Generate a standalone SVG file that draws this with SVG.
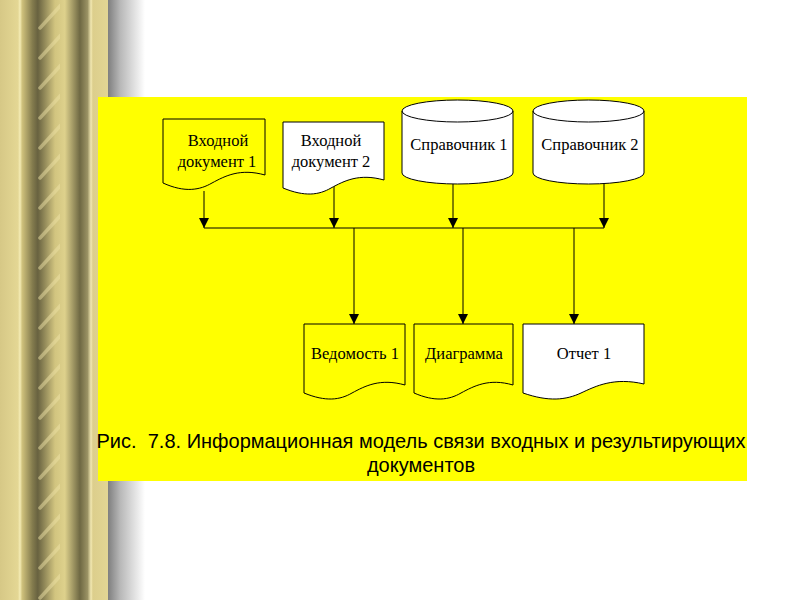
<svg xmlns="http://www.w3.org/2000/svg" width="800" height="600" viewBox="0 0 800 600">
<defs>
<linearGradient id="col" gradientUnits="userSpaceOnUse" x1="0" y1="0" x2="108" y2="0">
<stop offset="0" stop-color="#D6C886"/>
<stop offset="0.166" stop-color="#E4D794"/>
<stop offset="0.185" stop-color="#F4ECB6"/>
<stop offset="0.205" stop-color="#CFC17C"/>
<stop offset="0.30" stop-color="#847C4E"/>
<stop offset="0.35" stop-color="#686240"/>
<stop offset="0.51" stop-color="#D2C580"/>
<stop offset="0.60" stop-color="#DED18C"/>
<stop offset="0.74" stop-color="#6E6843"/>
<stop offset="0.81" stop-color="#9A9264"/>
<stop offset="0.843" stop-color="#F2E8B2"/>
<stop offset="0.86" stop-color="#DCCE8C"/>
<stop offset="1" stop-color="#E2D594"/>
</linearGradient>
<linearGradient id="shadow" x1="0" y1="0" x2="1" y2="0">
<stop offset="0" stop-color="#7A7A7A"/>
<stop offset="0.35" stop-color="#B8B8B8"/>
<stop offset="1" stop-color="#FFFFFF"/>
</linearGradient>
<pattern id="stripes" patternUnits="userSpaceOnUse" x="0" y="0" width="60" height="30">
<line x1="40" y1="28" x2="62" y2="4" stroke="#EDE2A6" stroke-width="3.5" stroke-linecap="round" opacity="0.5"/>
</pattern>
<clipPath id="colclip"><rect x="34" y="0" width="46" height="600"/></clipPath>
<marker id="arr" markerWidth="10" markerHeight="12" refX="10" refY="5" orient="auto" markerUnits="userSpaceOnUse" viewBox="0 0 10 10">
<path d="M0,0 L10,5 L0,10 Z" fill="#000"/>
</marker>
<style>
.shape{stroke:#000;stroke-width:1}
.y{fill:#FFFF00}
.w{fill:#FFFFFF}
.lbl{font-family:"Liberation Serif","Times New Roman",serif;font-size:16.5px;fill:#000;text-anchor:middle}
.cap{font-family:"Liberation Sans",Arial,sans-serif;font-size:20px;fill:#000;text-anchor:middle}
.con{stroke:#000;stroke-width:1;fill:none}
</style>
</defs>
<rect x="0" y="0" width="800" height="600" fill="#FFFFFF"/>
<rect x="107" y="0" width="38" height="600" fill="url(#shadow)"/>
<rect x="0" y="0" width="108" height="600" fill="url(#col)"/>
<rect x="0" y="0" width="108" height="600" fill="url(#stripes)" clip-path="url(#colclip)"/>
<rect x="98" y="97" width="649" height="384" fill="#FFFF00"/>

<g id="connectors">
<line class="con" x1="204" y1="191" x2="204" y2="228" marker-end="url(#arr)"/>
<line class="con" x1="334" y1="186" x2="334" y2="228" marker-end="url(#arr)"/>
<line class="con" x1="453" y1="184" x2="453" y2="228" marker-end="url(#arr)"/>
<line class="con" x1="604" y1="184" x2="604" y2="228" marker-end="url(#arr)"/>
<line class="con" x1="204" y1="228" x2="604" y2="228"/>
<line class="con" x1="354" y1="228" x2="354" y2="324" marker-end="url(#arr)"/>
<line class="con" x1="463" y1="228" x2="463" y2="324" marker-end="url(#arr)"/>
<line class="con" x1="574" y1="228" x2="574" y2="324" marker-end="url(#arr)"/>
</g>

<g id="doc1">
<path class="shape y" d="M163,119 H265 V175 C240,168 225,176 212,183 C200,190 185,193 163,183 Z"/>
<text class="lbl" x="218" y="146">Входной</text>
<text class="lbl" x="217" y="167">документ 1</text>
</g>
<g id="doc2">
<path class="shape w" d="M283,122 H384 V180 C359,173 344,181 331,188 C319,195 305,197 283,188 Z"/>
<text class="lbl" x="331" y="146">Входной</text>
<text class="lbl" x="331" y="167">документ 2</text>
</g>
<g id="ref1">
<path class="shape w" d="M402,111 A55.5,11 0 0 1 513,111 V173 A55.5,11 0 0 1 402,173 Z"/>
<path class="con" d="M402,111 A55.5,11 0 0 0 513,111"/>
<text class="lbl" x="459" y="150">Справочник 1</text>
</g>
<g id="ref2">
<path class="shape w" d="M533,111 A55.5,11 0 0 1 644,111 V173 A55.5,11 0 0 1 533,173 Z"/>
<path class="con" d="M533,111 A55.5,11 0 0 0 644,111"/>
<text class="lbl" x="590" y="150">Справочник 2</text>
</g>
<g id="out1">
<path class="shape y" d="M304,324 H405 V385 C380,378 365,386 352,393 C340,400 326,402 304,393 Z"/>
<text class="lbl" x="355" y="359">Ведомость 1</text>
</g>
<g id="out2">
<path class="shape y" d="M414,324 H513 V385 C489,378 474,386 461,393 C449,400 435,402 414,393 Z"/>
<text class="lbl" x="464" y="359">Диаграмма</text>
</g>
<g id="out3">
<path class="shape w" d="M523,324 H644 V384 C614,377 596,386 581,393 C566,400 549,402 523,393 Z"/>
<text class="lbl" x="584" y="359">Отчет 1</text>
</g>

<text class="cap" x="421" y="448" xml:space="preserve">Рис.  7.8. Информационная модель связи входных и результирующих</text>
<text class="cap" x="421" y="472">документов</text>
</svg>
